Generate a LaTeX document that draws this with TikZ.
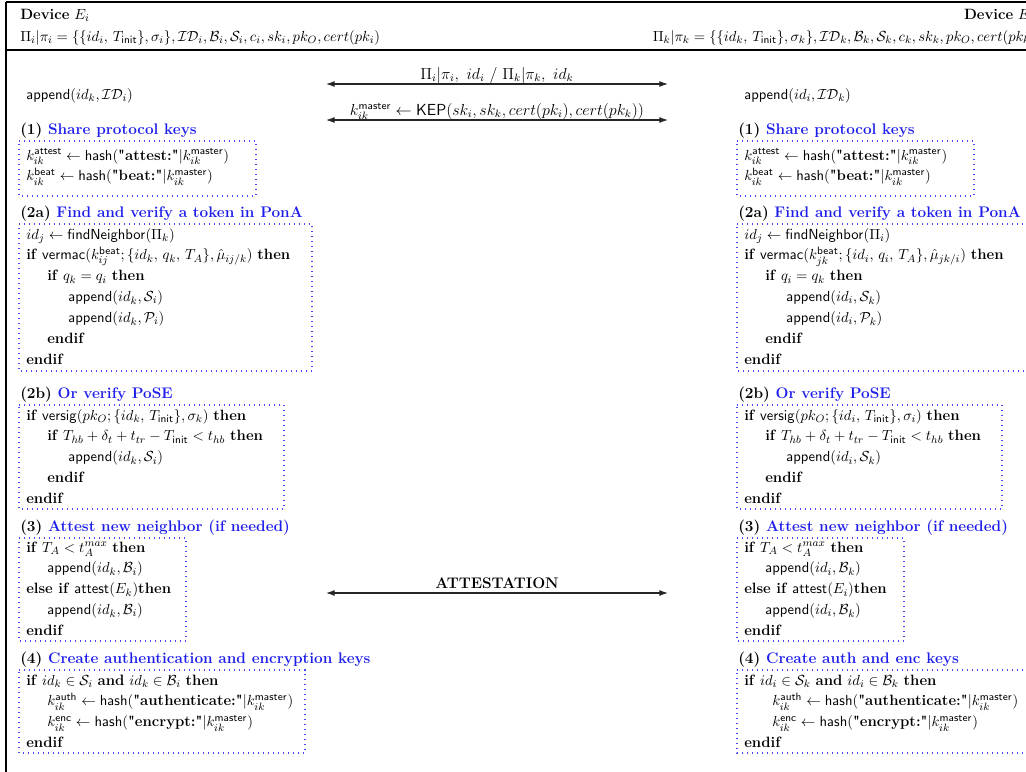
\documentclass[tikz,border=0pt]{standalone}
\usetikzlibrary{arrows.meta}
\definecolor{hdblue}{RGB}{30,30,235}
\definecolor{boxblue}{RGB}{70,70,250}
\renewcommand{\arraystretch}{1.12}
% straight double quote, as in the printed strings
\newcommand{\qt}{\XeTeXglyph\XeTeXcharglyph"22\relax}

\begin{document}
\begin{tikzpicture}[x=0.75pt,y=0.75pt,yscale=-1,xscale=1,
  txt/.style={anchor=base west,inner sep=0pt,font=\fontsize{11.2}{14}\selectfont},
  hd/.style={txt,font=\fontsize{11.5}{14}\selectfont\bfseries},
  hdr/.style={anchor=base east,inner sep=0pt,font=\fontsize{11.2}{14}\selectfont},
  dotbox/.style={draw=boxblue,line width=1pt,dash pattern=on 1pt off 2.75pt},
  frm/.style={line width=1.2pt},
  msg/.style={{Latex[length=6.5pt,width=4.5pt]}-{Latex[length=6.5pt,width=4.5pt]},line width=0.8pt,draw=black!85},
  lbl/.style={above,inner sep=0pt,font=\fontsize{11.5}{14}\selectfont}]

\clip (0,0) rectangle (1026,772);

%Straight Lines [frame]
\draw [frm] (6,2) -- (1026,2) ;
\draw [frm] (6,2) -- (6,772) ;
\draw [frm] (6,50) -- (1026,50) ;

% Text Node
\draw (20,19) node (devi) [txt] {\textbf{Device} $E_i$};
% Text Node
\draw (20,41) node (keysi) [txt] {$\Pi_i|\pi_i = \{\{id_i,\,T_{\mathsf{init}}\},\sigma_i\},\mathcal{ID}_i,\mathcal{B}_i,\mathcal{S}_i,c_i,sk_i,pk_O,cert(pk_i)$};
% Text Node
\draw (1036,19) node (devk) [hdr] {\textbf{Device} $E_k$};
% Text Node
\draw (1036,41) node (keysk) [hdr] {$\Pi_k|\pi_k = \{\{id_k,\,T_{\mathsf{init}}\},\sigma_k\},\mathcal{ID}_k,\mathcal{B}_k,\mathcal{S}_k,c_k,sk_k,pk_O,cert(pk_k)$};

%Straight Lines [messages]
\coordinate (m1l) at (326,84) ;
\coordinate (m1r) at (668,84) ;
\coordinate (m2l) at (326,120) ;
\coordinate (m2r) at (668,120) ;
\coordinate (m3l) at (326,593) ;
\coordinate (m3r) at (668,593) ;
\draw [msg] (m1l) -- (m1r) node [midway,lbl] {$\Pi_i|\pi_i,\ id_i\ /\ \Pi_k|\pi_k,\ id_k$} ;
\draw [msg] (m2l) -- (m2r) node [midway,lbl] {$k_{ik}^{\mathsf{master}} \leftarrow \mathsf{KEP}(sk_i,sk_k,cert(pk_i),cert(pk_k))$} ;
\draw [msg] (m3l) -- (m3r) node [midway,lbl,inner sep=3pt] {\textbf{ATTESTATION}} ;

% ---------------- Device E_i ----------------
% Text Node
\draw (26,99) node (appi) [txt] {$\mathsf{append}(id_k,\mathcal{ID}_i)$};
% Text Node
\draw (20,134) node (h1i) [hd] {(1) \textcolor{hdblue}{Share protocol keys}};
%Shape: Rectangle
\draw [dotbox] (19,141) -- (256,141) -- (256,196) -- (19,196) -- cycle ;
% Text Node
\draw (26,160) node (b1i) [txt] {\begin{tabular}[t]{@{}l@{}}
$k_{ik}^{\mathsf{attest}} \leftarrow \mathsf{hash}(\textbf{\qt attest:\qt}|k_{ik}^{\mathsf{master}})$\\
$k_{ik}^{\mathsf{beat}} \leftarrow \mathsf{hash}(\textbf{\qt beat:\qt}|k_{ik}^{\mathsf{master}})$
\end{tabular}};
% Text Node
\draw (20,217) node (h2ai) [hd] {(2a) \textcolor{hdblue}{Find and verify a token in PonA}};
%Shape: Rectangle
\draw [dotbox] (19,224) -- (312,224) -- (312,371) -- (19,371) -- cycle ;
% Text Node
\draw (26,239) node (b2ai) [txt] {\begin{tabular}[t]{@{}l@{}}
$id_j \leftarrow \mathsf{findNeighbor}(\Pi_k)$\\
\textbf{if} $\mathsf{vermac}(k_{ij}^{\mathsf{beat}};\{id_k,\,q_k,\,T_A\},\hat{\mu}_{ij/k})$ \textbf{then}\\
\hspace*{15.75pt}\textbf{if} $q_k = q_i$ \textbf{then}\\
\hspace*{31.5pt}$\mathsf{append}(id_k,\mathcal{S}_i)$\\
\hspace*{31.5pt}$\mathsf{append}(id_k,\mathcal{P}_i)$\\
\hspace*{15.75pt}\textbf{endif}\\
\textbf{endif}
\end{tabular}};
% Text Node
\draw (20,398) node (h2bi) [hd] {(2b) \textcolor{hdblue}{Or verify PoSE}};
%Shape: Rectangle
\draw [dotbox] (19,405) -- (284,405) -- (284,509) -- (19,509) -- cycle ;
% Text Node
\draw (26,420) node (b2bi) [txt] {\begin{tabular}[t]{@{}l@{}}
\textbf{if} $\mathsf{versig}(pk_O;\{id_k,\,T_{\mathsf{init}}\},\sigma_k)$ \textbf{then}\\
\hspace*{15.75pt}\textbf{if} $T_{hb}+\delta_t+t_{tr}-T_{\mathsf{init}}<t_{hb}$ \textbf{then}\\
\hspace*{31.5pt}$\mathsf{append}(id_k,\mathcal{S}_i)$\\
\hspace*{15.75pt}\textbf{endif}\\
\textbf{endif}
\end{tabular}};
% Text Node
\draw (20,531) node (h3i) [hd] {(3) \textcolor{hdblue}{Attest new neighbor (if needed)}};
%Shape: Rectangle
\draw [dotbox] (19,538) -- (186,538) -- (186,641) -- (19,641) -- cycle ;
% Text Node
\draw (26,552) node (b3i) [txt] {\begin{tabular}[t]{@{}l@{}}
\textbf{if} $T_A < t_A^{max}$ \textbf{then}\\
\hspace*{15.75pt}$\mathsf{append}(id_k,\mathcal{B}_i)$\\
\textbf{else if} $\mathsf{attest}(E_k)$\textbf{then}\\
\hspace*{15.75pt}$\mathsf{append}(id_k,\mathcal{B}_i)$\\
\textbf{endif}
\end{tabular}};
% Text Node
\draw (20,663) node (h4i) [hd] {(4) \textcolor{hdblue}{Create authentication and encryption keys}};
%Shape: Rectangle
\draw [dotbox] (19,670) -- (305,670) -- (305,753) -- (19,753) -- cycle ;
% Text Node
\draw (26,685) node (b4i) [txt] {\begin{tabular}[t]{@{}l@{}}
\textbf{if} $id_k \in \mathcal{S}_i$ \textbf{and} $id_k \in \mathcal{B}_i$ \textbf{then}\\
\hspace*{15.75pt}$k_{ik}^{\mathsf{auth}} \leftarrow \mathsf{hash}(\textbf{\qt authenticate:\qt}|k_{ik}^{\mathsf{master}})$\\
\hspace*{15.75pt}$k_{ik}^{\mathsf{enc}} \leftarrow \mathsf{hash}(\textbf{\qt encrypt:\qt}|k_{ik}^{\mathsf{master}})$\\
\textbf{endif}
\end{tabular}};

% ---------------- Device E_k ----------------
% Text Node
\draw (744,99) node (appk) [txt] {$\mathsf{append}(id_i,\mathcal{ID}_k)$};
% Text Node
\draw (738,134) node (h1k) [hd] {(1) \textcolor{hdblue}{Share protocol keys}};
%Shape: Rectangle
\draw [dotbox] (737,141) -- (974,141) -- (974,196) -- (737,196) -- cycle ;
% Text Node
\draw (744,160) node (b1k) [txt] {\begin{tabular}[t]{@{}l@{}}
$k_{ik}^{\mathsf{attest}} \leftarrow \mathsf{hash}(\textbf{\qt attest:\qt}|k_{ik}^{\mathsf{master}})$\\
$k_{ik}^{\mathsf{beat}} \leftarrow \mathsf{hash}(\textbf{\qt beat:\qt}|k_{ik}^{\mathsf{master}})$
\end{tabular}};
% Text Node
\draw (738,217) node (h2ak) [hd] {(2a) \textcolor{hdblue}{Find and verify a token in PonA}};
%Shape: Rectangle
\draw [dotbox] (737,224) -- (1032,224) -- (1032,371) -- (737,371) -- cycle ;
% Text Node
\draw (744,239) node (b2ak) [txt] {\begin{tabular}[t]{@{}l@{}}
$id_j \leftarrow \mathsf{findNeighbor}(\Pi_i)$\\
\textbf{if} $\mathsf{vermac}(k_{jk}^{\mathsf{beat}};\{id_i,\,q_i,\,T_A\},\hat{\mu}_{jk/i})$ \textbf{then}\\
\hspace*{15.75pt}\textbf{if} $q_i = q_k$ \textbf{then}\\
\hspace*{31.5pt}$\mathsf{append}(id_i,\mathcal{S}_k)$\\
\hspace*{31.5pt}$\mathsf{append}(id_i,\mathcal{P}_k)$\\
\hspace*{15.75pt}\textbf{endif}\\
\textbf{endif}
\end{tabular}};
% Text Node
\draw (738,398) node (h2bk) [hd] {(2b) \textcolor{hdblue}{Or verify PoSE}};
%Shape: Rectangle
\draw [dotbox] (737,405) -- (1002,405) -- (1002,509) -- (737,509) -- cycle ;
% Text Node
\draw (744,420) node (b2bk) [txt] {\begin{tabular}[t]{@{}l@{}}
\textbf{if} $\mathsf{versig}(pk_O;\{id_i,\,T_{\mathsf{init}}\},\sigma_i)$ \textbf{then}\\
\hspace*{15.75pt}\textbf{if} $T_{hb}+\delta_t+t_{tr}-T_{\mathsf{init}}<t_{hb}$ \textbf{then}\\
\hspace*{31.5pt}$\mathsf{append}(id_i,\mathcal{S}_k)$\\
\hspace*{15.75pt}\textbf{endif}\\
\textbf{endif}
\end{tabular}};
% Text Node
\draw (738,531) node (h3k) [hd] {(3) \textcolor{hdblue}{Attest new neighbor (if needed)}};
%Shape: Rectangle
\draw [dotbox] (737,538) -- (904,538) -- (904,641) -- (737,641) -- cycle ;
% Text Node
\draw (744,552) node (b3k) [txt] {\begin{tabular}[t]{@{}l@{}}
\textbf{if} $T_A < t_A^{max}$ \textbf{then}\\
\hspace*{15.75pt}$\mathsf{append}(id_i,\mathcal{B}_k)$\\
\textbf{else if} $\mathsf{attest}(E_i)$\textbf{then}\\
\hspace*{15.75pt}$\mathsf{append}(id_i,\mathcal{B}_k)$\\
\textbf{endif}
\end{tabular}};
% Text Node
\draw (738,663) node (h4k) [hd] {(4) \textcolor{hdblue}{Create auth and enc keys}};
%Shape: Rectangle
\draw [dotbox] (737,670) -- (1036,670) -- (1036,753) -- (737,753) -- cycle ;
% Text Node
\draw (744,685) node (b4k) [txt] {\begin{tabular}[t]{@{}l@{}}
\textbf{if} $id_i \in \mathcal{S}_k$ \textbf{and} $id_i \in \mathcal{B}_k$ \textbf{then}\\
\hspace*{21pt}$k_{ik}^{\mathsf{auth}} \leftarrow \mathsf{hash}(\textbf{\qt authenticate:\qt}|k_{ik}^{\mathsf{master}})$\\
\hspace*{21pt}$k_{ik}^{\mathsf{enc}} \leftarrow \mathsf{hash}(\textbf{\qt encrypt:\qt}|k_{ik}^{\mathsf{master}})$\\
\textbf{endif}
\end{tabular}};

\end{tikzpicture}
\end{document}
